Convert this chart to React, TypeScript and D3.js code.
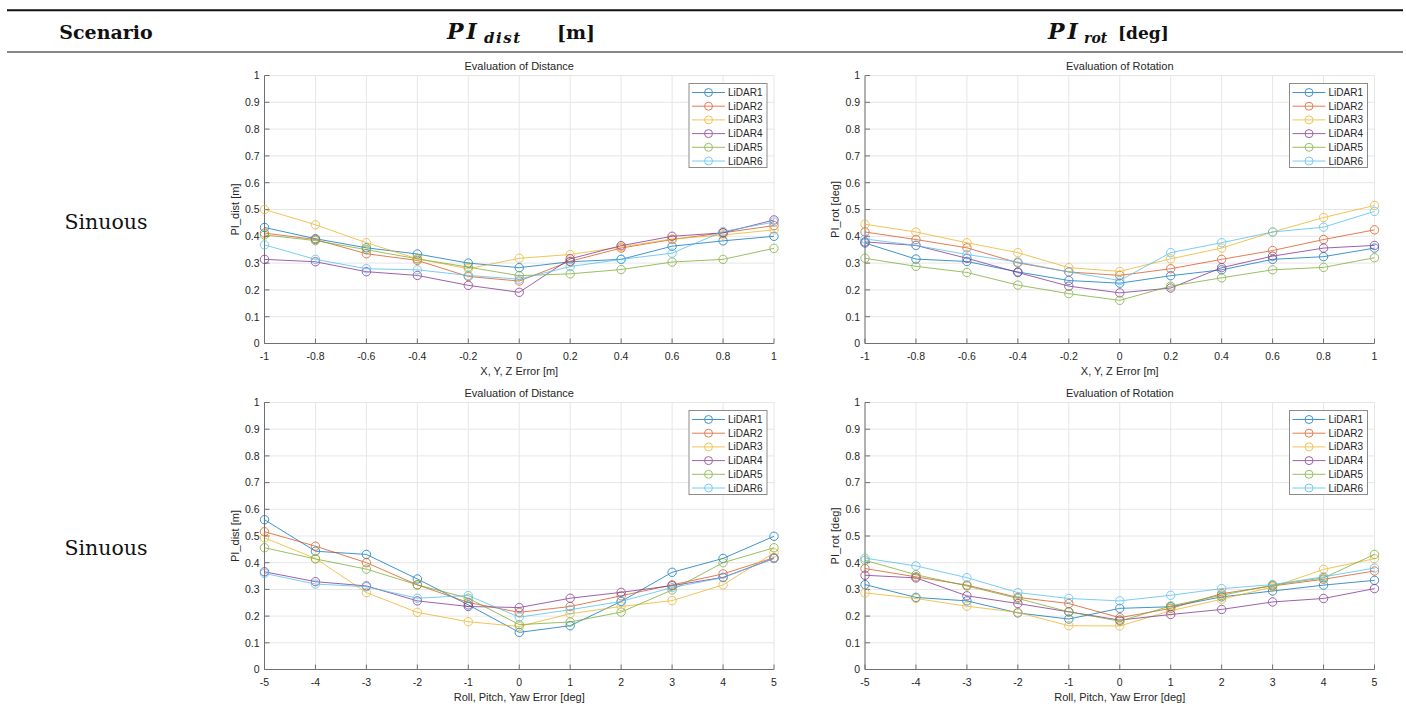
import React from "react";
import * as d3 from "d3";

const lidarNames = ["LiDAR1", "LiDAR2", "LiDAR3", "LiDAR4", "LiDAR5", "LiDAR6"];
const lidarColors = ["#0072BD", "#D95319", "#EDB120", "#7E2F8E", "#77AC30", "#4DBEEE"];

const xTranslation = [-1, -0.8, -0.6, -0.4, -0.2, 0, 0.2, 0.4, 0.6, 0.8, 1];
const xRotation = [-5, -4, -3, -2, -1, 0, 1, 2, 3, 4, 5];
const yTicks = [0, 0.1, 0.2, 0.3, 0.4, 0.5, 0.6, 0.7, 0.8, 0.9, 1];

// Top-left: distance PI vs translation error
const transDist = [
  [0.433, 0.391, 0.357, 0.334, 0.300, 0.283, 0.305, 0.314, 0.363, 0.383, 0.400],
  [0.412, 0.388, 0.335, 0.310, 0.250, 0.233, 0.307, 0.356, 0.388, 0.413, 0.440],
  [0.500, 0.443, 0.376, 0.316, 0.279, 0.318, 0.332, 0.360, 0.390, 0.405, 0.424],
  [0.314, 0.305, 0.268, 0.254, 0.217, 0.191, 0.316, 0.365, 0.400, 0.413, 0.461],
  [0.405, 0.384, 0.350, 0.316, 0.285, 0.253, 0.260, 0.276, 0.304, 0.314, 0.355],
  [0.368, 0.314, 0.279, 0.275, 0.254, 0.240, 0.287, 0.314, 0.337, 0.418, 0.453],
];
// Top-right: rotation PI vs translation error
const transRot = [
  [0.375, 0.315, 0.306, 0.267, 0.235, 0.225, 0.253, 0.275, 0.314, 0.324, 0.356],
  [0.416, 0.388, 0.357, 0.301, 0.267, 0.254, 0.279, 0.314, 0.347, 0.388, 0.424],
  [0.445, 0.416, 0.376, 0.339, 0.283, 0.269, 0.316, 0.356, 0.416, 0.470, 0.515],
  [0.379, 0.366, 0.318, 0.265, 0.214, 0.189, 0.207, 0.283, 0.326, 0.356, 0.366],
  [0.318, 0.288, 0.265, 0.218, 0.186, 0.161, 0.214, 0.245, 0.275, 0.284, 0.320],
  [0.390, 0.366, 0.332, 0.304, 0.267, 0.235, 0.339, 0.376, 0.416, 0.434, 0.493],
];
// Bottom-left: distance PI vs rotation error
const rotDist = [
  [0.561, 0.443, 0.431, 0.339, 0.242, 0.139, 0.164, 0.255, 0.364, 0.416, 0.499],
  [0.516, 0.462, 0.400, 0.317, 0.251, 0.214, 0.236, 0.276, 0.317, 0.358, 0.419],
  [0.493, 0.416, 0.288, 0.214, 0.179, 0.161, 0.209, 0.236, 0.258, 0.317, 0.437],
  [0.366, 0.329, 0.313, 0.257, 0.236, 0.232, 0.267, 0.289, 0.314, 0.345, 0.416],
  [0.456, 0.414, 0.376, 0.317, 0.267, 0.168, 0.178, 0.215, 0.298, 0.400, 0.456],
  [0.360, 0.320, 0.310, 0.267, 0.277, 0.196, 0.224, 0.255, 0.307, 0.344, 0.416],
];
// Bottom-right: rotation PI vs rotation error
const rotRot = [
  [0.318, 0.270, 0.257, 0.212, 0.189, 0.229, 0.235, 0.272, 0.294, 0.316, 0.334],
  [0.378, 0.347, 0.316, 0.270, 0.247, 0.194, 0.229, 0.284, 0.313, 0.338, 0.369],
  [0.287, 0.266, 0.237, 0.214, 0.164, 0.163, 0.220, 0.263, 0.309, 0.375, 0.415],
  [0.353, 0.343, 0.276, 0.247, 0.216, 0.185, 0.206, 0.225, 0.253, 0.266, 0.303],
  [0.409, 0.355, 0.313, 0.266, 0.216, 0.181, 0.238, 0.278, 0.316, 0.343, 0.431],
  [0.417, 0.388, 0.344, 0.288, 0.266, 0.257, 0.278, 0.303, 0.318, 0.347, 0.380],
];

const SANS = "'Liberation Sans', Arial, Helvetica, sans-serif";
const SERIF = "'DejaVu Serif', 'Liberation Serif', serif";
const TXT = "#262626";

type PanelProps = {
  left: number; right: number; top: number; bottom: number;
  xs: number[]; data: number[][]; title: string; xLabel: string; yLabel: string;
};

function Panel({ left, right, top, bottom, xs, data, title, xLabel, yLabel }: PanelProps) {
  const x = d3.scaleLinear().domain([xs[0], xs[xs.length - 1]]).range([left, right]);
  const y = d3.scaleLinear().domain([0, 1]).range([bottom, top]);
  const line = d3.line<number>().x((_, i) => x(xs[i])).y((v) => y(v));
  const legX = right - 85;
  const legY = top + 8;
  const rowH = 13.7;
  return (
    <g>
      {xs.map((t) => (
        <line key={"gx" + t} x1={x(t)} x2={x(t)} y1={top} y2={bottom} stroke="#e6e6e6" strokeWidth={1} />
      ))}
      {yTicks.map((t) => (
        <line key={"gy" + t} x1={left} x2={right} y1={y(t)} y2={y(t)} stroke="#e6e6e6" strokeWidth={1} />
      ))}
      <line x1={left} x2={right} y1={bottom} y2={bottom} stroke="#707070" strokeWidth={1} />
      <line x1={left} x2={left} y1={top} y2={bottom} stroke="#707070" strokeWidth={1} />
      {xs.map((t) => (
        <g key={"xt" + t}>
          <line x1={x(t)} x2={x(t)} y1={bottom} y2={bottom - 5} stroke="#707070" />
          <text x={x(t)} y={bottom + 16} fontSize={10.5} fontFamily={SANS} fill={TXT} textAnchor="middle">
            {String(t)}
          </text>
        </g>
      ))}
      {yTicks.map((t) => (
        <g key={"yt" + t}>
          <line x1={left} x2={left + 5} y1={y(t)} y2={y(t)} stroke="#707070" />
          <text x={left - 5} y={y(t) + 3.8} fontSize={10.5} fontFamily={SANS} fill={TXT} textAnchor="end">
            {String(Math.round(t * 10) / 10)}
          </text>
        </g>
      ))}
      <text x={(left + right) / 2} y={top - 6} fontSize={11} fontFamily={SANS} fill={TXT} textAnchor="middle">
        {title}
      </text>
      <text x={(left + right) / 2} y={bottom + 31} fontSize={11} fontFamily={SANS} fill={TXT} textAnchor="middle">
        {xLabel}
      </text>
      <text
        transform={`translate(${left - 26},${(top + bottom) / 2}) rotate(-90)`}
        fontSize={11} fontFamily={SANS} fill={TXT} textAnchor="middle"
      >
        {yLabel}
      </text>
      {data.map((series, si) => (
        <g key={"s" + si} opacity={0.75}>
          <path d={line(series) || ""} fill="none" stroke={lidarColors[si]} strokeWidth={1} />
          {series.map((v, i) => (
            <circle key={i} cx={x(xs[i])} cy={y(v)} r={4.2} fill="none" stroke={lidarColors[si]} strokeWidth={1} />
          ))}
        </g>
      ))}
      <rect x={legX} y={legY} width={78} height={84} fill="white" stroke="#8c8c8c" strokeWidth={1} />
      {lidarNames.map((name, i) => {
        const cy = legY + 9 + i * rowH;
        return (
          <g key={name}>
            <g opacity={0.75}>
              <line x1={legX + 3} x2={legX + 36} y1={cy} y2={cy} stroke={lidarColors[i]} strokeWidth={1} />
              <circle cx={legX + 19.5} cy={cy} r={4} fill="none" stroke={lidarColors[i]} />
            </g>
            <text x={legX + 39} y={cy + 3.5} fontSize={10} fontFamily={SANS} fill={TXT}>
              {name}
            </text>
          </g>
        );
      })}
    </g>
  );
}

export default function App() {
  const W = 1406;
  const H = 713;
  const rowTops = [75.5, 402.5];
  const rowBottoms = [343.5, 669.5];
  const colLefts = [264.5, 865];
  const colRights = [774, 1374.5];
  return (
    <svg width={W} height={H} style={{ position: "absolute", left: 0, top: 0, background: "white" }}>
      <rect x={0} y={0} width={W} height={H} fill="white" />
      <line x1={7} x2={1403} y1={10.2} y2={10.2} stroke="#111" strokeWidth={2} />
      <line x1={7} x2={1403} y1={52} y2={52} stroke="#111" strokeWidth={1.2} />
      <text x={106} y={39} fontFamily={SERIF} fontWeight="bold" fontSize={19} textAnchor="middle" fill="#111">
        Scenario
      </text>
      <text x={447} y={39} fontFamily={SERIF} fontWeight="bold" fill="#111">
        <tspan fontSize={22} fontStyle="italic" letterSpacing={3}>PI</tspan>
        <tspan x={484} dy={4} fontSize={15} fontStyle="italic" letterSpacing={1.5}>dist</tspan>
        <tspan x={557} dy={-4} fontSize={19}>[m]</tspan>
      </text>
      <text x={1048} y={39} fontFamily={SERIF} fontWeight="bold" fill="#111">
        <tspan fontSize={22} fontStyle="italic" letterSpacing={3}>PI</tspan>
        <tspan x={1084} dy={4} fontSize={14} fontStyle="italic">rot</tspan>
        <tspan x={1118} dy={-4} fontSize={17}>[deg]</tspan>
      </text>
      <text x={106} y={229} fontFamily={SERIF} fontSize={20.5} textAnchor="middle" fill="#111">Sinuous</text>
      <text x={106} y={555} fontFamily={SERIF} fontSize={20.5} textAnchor="middle" fill="#111">Sinuous</text>
      <Panel left={colLefts[0]} right={colRights[0]} top={rowTops[0]} bottom={rowBottoms[0]} xs={xTranslation}
        data={transDist} title="Evaluation of Distance" xLabel="X, Y, Z Error [m]" yLabel="PI_dist [m]" />
      <Panel left={colLefts[1]} right={colRights[1]} top={rowTops[0]} bottom={rowBottoms[0]} xs={xTranslation}
        data={transRot} title="Evaluation of Rotation" xLabel="X, Y, Z Error [m]" yLabel="PI_rot [deg]" />
      <Panel left={colLefts[0]} right={colRights[0]} top={rowTops[1]} bottom={rowBottoms[1]} xs={xRotation}
        data={rotDist} title="Evaluation of Distance" xLabel="Roll, Pitch, Yaw Error [deg]" yLabel="PI_dist [m]" />
      <Panel left={colLefts[1]} right={colRights[1]} top={rowTops[1]} bottom={rowBottoms[1]} xs={xRotation}
        data={rotRot} title="Evaluation of Rotation" xLabel="Roll, Pitch, Yaw Error [deg]" yLabel="PI_rot [deg]" />
    </svg>
  );
}
